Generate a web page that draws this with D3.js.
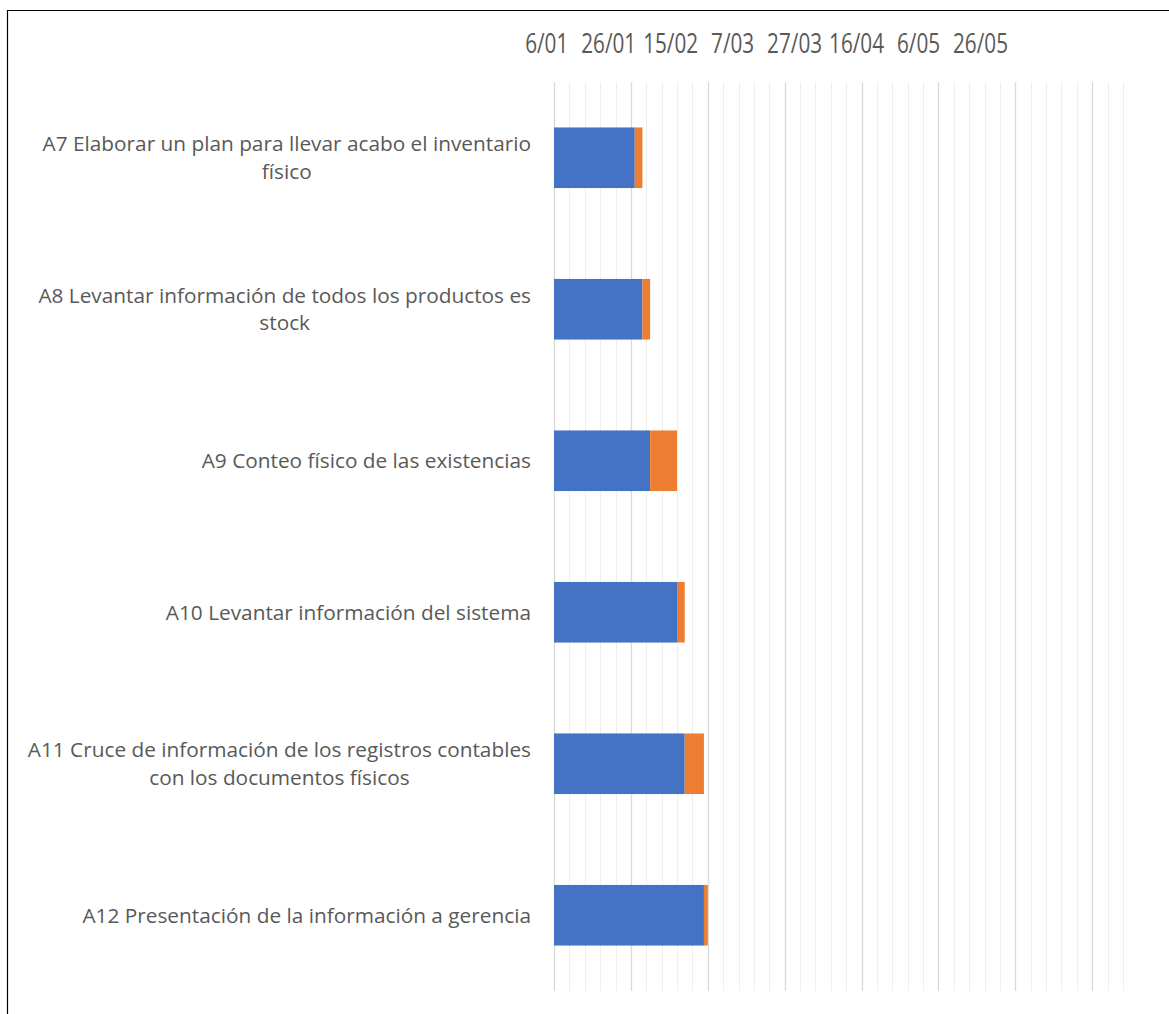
<!DOCTYPE html>
<html>
<head>
<meta charset="utf-8">
<script src="https://cdn.jsdelivr.net/npm/d3@7"></script>
<style>
  html, body { margin: 0; padding: 0; background: #fff; }
  svg { display: block; }
</style>
</head>
<body>
<svg id="chart" width="1169" height="1014"></svg>
<script>
// ---- data ----
const categories = [
  "A7 Elaborar un plan para llevar acabo el inventario\nfísico",
  "A8 Levantar información de todos los productos es\nstock",
  "A9 Conteo físico de las existencias",
  "A10 Levantar información del sistema",
  "A11 Cruce de información de los registros contables\ncon los documentos físicos",
  "A12 Presentación de la información a gerencia"
];
const startDates = ["2021-01-27", "2021-01-29", "2021-01-31", "2021-02-07", "2021-02-09", "2021-02-14"];
const durations = [2, 2, 7, 2, 5, 1];
const axisMin = "2021-01-06";
const axisMax = "2021-06-03";
const majorUnit = 20;
const minorUnit = 4;
const tickLabels = ["6/01", "26/01", "15/02", "7/03", "27/03", "16/04", "6/05", "26/05"];

// ---- setup ----
const parse = d3.utcParse("%Y-%m-%d");
const DAY = 86400000;
const svg = d3.select("#chart");
const W = 1169, H = 1014;
const plot = { left: 554, right: 1123, top: 82, bottom: 991 };

const x = d3.scaleUtc().domain([parse(axisMin), parse(axisMax)]).range([plot.left, plot.right]);
const y = d3.scaleBand().domain(categories).range([plot.top, plot.bottom]).paddingInner(0.6).paddingOuter(0.3);

// outer border
svg.append("path")
  .attr("d", `M7.5,${H} V10.5 H${W}`)
  .attr("fill", "none").attr("stroke", "#000").attr("stroke-width", 1.2);

// gridlines
const minorTicks = d3.utcDay.every(1).range(parse(axisMin), new Date(parse(axisMax).getTime() + DAY))
  .filter((d, i) => i % minorUnit === 0);
const majorTicks = minorTicks.filter(d => Math.round((d - parse(axisMin)) / DAY) % majorUnit === 0);

svg.append("g").selectAll("line").data(minorTicks.filter(d => !majorTicks.includes(d))).join("line")
  .attr("x1", d => Math.round(x(d)) + 0.5).attr("x2", d => Math.round(x(d)) + 0.5)
  .attr("y1", plot.top).attr("y2", plot.bottom)
  .attr("stroke", "#eeeeee").attr("stroke-width", 1);
svg.append("g").selectAll("line").data(majorTicks).join("line")
  .attr("x1", d => Math.round(x(d)) + 0.5).attr("x2", d => Math.round(x(d)) + 0.5)
  .attr("y1", plot.top).attr("y2", plot.bottom)
  .attr("stroke", "#d9d9d9").attr("stroke-width", 1.3);

// bars
const rows = categories.map((c, i) => ({ c, start: parse(startDates[i]), dur: durations[i] }));
const g = svg.append("g");
g.selectAll("rect.start").data(rows).join("rect").attr("class", "start")
  .attr("x", x(parse(axisMin)))
  .attr("y", d => y(d.c))
  .attr("width", d => x(d.start) - x(parse(axisMin)))
  .attr("height", y.bandwidth())
  .attr("fill", "#4472C4");
g.selectAll("rect.dur").data(rows).join("rect").attr("class", "dur")
  .attr("x", d => x(d.start))
  .attr("y", d => y(d.c))
  .attr("width", d => x(new Date(d.start.getTime() + d.dur * DAY)) - x(d.start))
  .attr("height", y.bandwidth())
  .attr("fill", "#ED7D31");

// category labels: block right-aligned to the axis, lines centred within the block
const labelRight = 531;
const catG = svg.append("g")
  .attr("font-family", "'Open Sans', sans-serif").attr("font-size", 20.8).attr("fill", "#595959")
  .attr("text-anchor", "middle");
categories.forEach(c => {
  const lines = c.split("\n");
  const cy = y(c) + y.bandwidth() / 2;
  const lh = 27.5;
  const t = catG.append("text");
  const spans = lines.map((ln, j) => t.append("tspan")
      .attr("y", cy + (j - (lines.length - 1) / 2) * lh)
      .attr("dy", "0.35em").text(ln));
  const maxW = d3.max(spans, s => s.node().getComputedTextLength());
  spans.forEach(s => s.attr("x", labelRight - maxW / 2));
});

// top tick labels (rendered condensed, as in the reference)
const labelDates = majorTicks.slice(0, tickLabels.length);
const xl = d3.scaleUtc().domain([labelDates[0], labelDates[labelDates.length - 1]]).range([546.7, 980.5]);
const tickG = svg.append("g")
  .attr("font-family", "'Open Sans', sans-serif").attr("font-size", 28).attr("fill", "#595959")
  .attr("text-anchor", "middle");
tickG.selectAll("g").data(labelDates).join("g")
  .attr("transform", d => `translate(${xl(d)},43) scale(0.74,1)`)
  .append("text")
  .attr("dy", "0.35em")
  .text(d => tickLabels[labelDates.indexOf(d)]);
</script>
</body>
</html>
